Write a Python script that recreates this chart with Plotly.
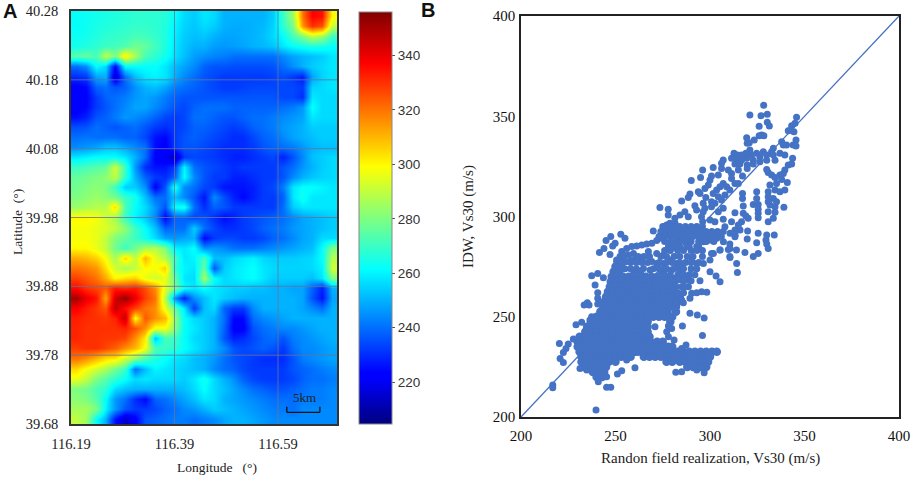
import plotly.graph_objects as go

W, H = 913, 477
SERIF = "Liberation Serif"
SANS = "Liberation Sans"

# ---------- Panel A data ----------
lon_ticks = [116.19, 116.39, 116.59]
lat_ticks = [39.68, 39.78, 39.88, 39.98, 40.08, 40.18, 40.28]
cbar_ticks = [220, 240, 260, 280, 300, 320, 340]
lon_range = [116.19, 116.704]
lat_range = [39.68, 40.28]
vs30_range = [204.6, 356]
vs30_rows = [
[262,263,264,265,266,267,268,268,268,267,262,256,254,258,256,250,250,250,250,250,254,270,285,320,337,335,300],
[262,263,265,266,267,268,269,269,268,266,260,255,253,256,254,250,249,249,250,251,255,268,280,315,330,325,290],
[263,264,266,268,269,270,272,271,269,266,259,254,252,253,250,248,248,249,250,252,256,262,272,280,290,285,270],
[264,266,268,270,271,273,278,276,271,266,258,253,250,250,247,246,247,248,250,251,253,258,262,264,266,265,262],
[274,276,272,290,280,302,286,272,268,264,257,252,247,245,243,242,240,240,240,240,240,244,248,250,252,254,258],
[240,245,262,256,224,262,262,262,262,258,252,248,244,238,236,236,235,235,235,235,236,240,245,250,254,256,258],
[230,232,248,250,216,240,252,258,260,258,250,244,240,236,234,232,232,232,232,232,233,235,232,228,248,255,258],
[222,224,238,240,236,238,245,250,252,248,242,240,238,236,234,232,232,233,234,234,234,234,234,232,255,256,258],
[221,223,232,238,240,242,246,248,246,242,238,236,236,236,236,236,236,236,236,236,236,234,234,230,258,256,256],
[221,224,232,236,240,244,248,248,244,240,236,234,238,240,240,240,238,238,238,238,238,240,242,246,262,256,256],
[225,228,236,238,242,246,244,242,238,234,232,234,240,240,238,236,236,238,240,240,242,244,246,248,258,256,256],
[235,236,240,238,236,238,240,236,232,230,232,234,238,238,236,234,232,234,238,240,242,246,248,250,254,254,254],
[240,241,240,240,240,238,238,234,226,224,232,236,238,236,234,232,230,230,234,238,240,244,248,250,252,254,254],
[244,246,248,252,252,248,244,240,225,222,232,236,236,234,232,230,230,230,232,236,238,240,242,246,250,252,252],
[258,260,262,262,262,258,250,240,222,220,212,232,234,233,232,230,228,228,230,232,234,228,236,244,252,254,256],
[270,272,274,276,292,270,246,230,226,226,232,260,240,236,234,232,230,232,232,232,232,236,240,246,250,254,256],
[276,278,280,282,290,268,250,238,232,230,238,262,244,236,232,232,228,228,230,232,232,236,244,250,253,255,256],
[278,280,282,280,270,254,254,245,222,236,266,244,240,234,232,226,226,226,228,232,234,242,258,262,262,260,258],
[280,282,284,282,278,270,264,252,240,240,252,244,236,226,244,235,228,224,228,232,232,238,258,264,258,258,258],
[284,286,288,288,304,272,262,256,246,236,262,264,240,230,238,236,232,232,232,232,232,240,254,258,258,258,258],
[300,300,298,292,286,270,260,254,244,224,238,238,234,236,230,225,228,232,234,236,238,240,244,248,250,252,254],
[298,298,296,294,290,282,270,262,252,238,240,240,254,240,234,230,230,232,234,238,240,242,246,248,250,252,254],
[298,298,296,290,280,276,270,264,256,248,246,248,250,224,232,234,234,232,232,234,238,240,244,248,250,256,256],
[300,300,296,290,278,270,278,286,288,280,260,258,262,245,246,244,240,240,240,242,244,246,248,250,252,262,280],
[312,310,306,298,286,305,290,310,296,288,272,258,260,272,252,252,256,258,260,256,254,254,254,255,256,262,288],
[320,318,315,304,292,286,290,300,298,306,268,260,258,276,236,254,258,260,262,258,256,255,255,255,256,260,292],
[328,324,320,312,300,304,306,296,292,296,276,258,256,286,262,256,258,260,262,258,254,254,254,254,252,258,280],
[336,330,327,324,333,331,333,326,316,295,280,262,258,262,258,256,254,254,252,252,250,250,248,248,238,228,250],
[350,340,335,312,344,352,340,328,320,288,245,228,245,252,258,254,252,250,250,250,250,250,250,248,236,226,248],
[338,333,329,324,346,335,328,320,316,296,276,258,232,252,256,238,232,232,244,250,250,250,250,248,244,240,250],
[333,331,330,329,332,346,298,324,316,310,284,262,256,254,250,240,224,224,240,244,246,248,250,250,250,250,250],
[332,330,330,330,330,332,325,316,298,298,282,262,258,254,250,238,222,222,236,240,242,244,244,246,248,250,250],
[332,330,330,329,329,327,316,302,252,272,270,262,256,254,250,236,228,230,234,238,240,236,242,244,246,248,250],
[328,330,330,327,323,316,310,298,272,270,268,262,258,254,250,244,236,234,236,238,236,232,240,244,244,246,248],
[320,316,310,304,302,292,282,272,266,262,258,256,252,250,246,240,236,234,232,230,230,230,236,242,244,246,248],
[305,298,292,286,278,270,240,252,260,258,256,254,252,250,244,240,238,234,232,232,232,232,236,238,240,242,244],
[296,290,280,274,268,262,256,258,256,256,256,254,258,264,256,250,245,238,234,232,232,232,234,238,240,240,242],
[280,278,272,268,256,252,250,250,250,250,250,252,256,262,256,252,248,244,240,238,236,236,238,240,242,242,244],
[282,280,274,262,246,240,230,224,238,240,244,248,252,258,256,250,248,246,244,242,240,240,240,242,242,242,244],
[286,286,280,260,246,236,232,232,234,238,240,244,246,250,254,252,250,248,246,244,242,242,240,244,244,244,244],
[290,285,262,250,226,214,222,236,238,240,242,242,240,242,244,248,250,250,248,246,244,244,244,244,244,244,244],
]

# ---------- Panel B data ----------
xy_ticks = [200, 250, 300, 350, 400]
xy_range = [200, 400]
blob_levels = [277.5, 275, 272.5, 270, 267.5, 265, 262.5, 260, 257.5, 255, 252.5, 250,
               247.5, 245, 242.5, 240, 237.5, 235, 232.5, 230, 227.5, 225, 222.5, 220]
blob_rows = [
[251,254],
[250,253],
[249,252,260,263],
[248,251,254,257,260,263,266,269,272],
[247.5,250.5,253.5,256.5,259.5,262.5,265.5,268.5,271.5,274],
[247,250,253,256,259,262,265,268,271,274,277,280],
[246,248.5,251.5,254.5,257.5,260.5,263.5,266.5,269.5,272.5,275.5,278.5,281],
[245,248,251,254,257,260,263,266,269,272,275,278,281,284],
[244,246.5,249.5,252.5,255.5,258.5,261.5,264.5,267.5,270.5,273.5,276.5,279.5,283],
[243.5,246,249,252,255,258,261,264,267,270,273,276,279,282],
[242,244.5,247.5,250.5,253.5,256.5,259.5,262.5,265.5,268.5,271.5,274.5,277.5,282],
[240,243,246,249,252,255,258,261,264,267,270,273,276,280],
[237,239.5,242.5,245.5,248.5,251.5,254.5,257.5,260.5,263.5,267,279],
[235,238,241,244,247,250,253,256,259,262,265,267],
[234,236.5,239.5,242.5,245.5,248.5,251.5,254.5,257.5,260.5,263.5,267],
[231,234,237,240,243,246,249,252,255,258,261,264,268],
[230,232.5,235.5,238.5,241.5,244.5,247.5,250.5,253.5,256.5,259.5,262.5,265.5,268.5,272,275],
[230,233,236,239,242,245,248,251,254,257,260,263,266,269,272,275,278,280],
[231,233.5,236.5,239.5,242.5,245.5,248.5,251.5,254.5,257.5,260.5,262,265,268,271,274,277,280,283,286,289,292,295,298,301,303.6],
[232,235,238,241,244,247,250,253,256,258,265,268,271,274,277,280,283,286,289,292,295,298,300],
[232,234.5,237.5,240.5,243.5,246.5,250,277,280,284,287,290,293,296,299],
[233,236,239,242,245,288,291,295,298],
[238,241,244],
[240,243],
]
band_levels = [295, 292.5, 290, 287.5, 285, 283]
band_rows = [
[275,278,281,284,287,290,293,296],
[274,277,280,283,286,289,292,295,298,301,304,307],
[273,276,279,282,285,288,291,294,297,300,303,306],
[276,279,282,284,287,290,294,298,302],
[278,281,284,289,294],
[276,279,283,286,290,293,296],
]
middle_levels = [280, 277, 274, 271, 268, 265, 262]
middle_rows = [
[262,265,268,274,277,281,284,288,291,296],
[258,261,264,267,273,277,280,284,287,290,294],
[255,258,261,270,273,277,281,284,286,290,293],
[274,276,279,283,286,289,292],
[276,279,282,286,290],
[282,285,287],
[283,286],
]
lower_x = [252.8,247.5,255,245,243.9,241.5,247.1,249.8,248.5,253.3,255.9,258.6,261.2,263.9,266.5,269.2,271.8,273.6,275.3,277.1,278.9,280.6,277.1,281.5,270,252.4,254.2,256.8,259.5,250.6,253.3,255.9,258.6,261.2,263.9,267.4,271.8,275.3,278.9,282.4,287.7,293,296.5,300,303.6,307.1,310.6,313.3,315.9,269.2,271.8,275.3,278.9,282.4,285,290.3,293,296.5,300,301.8,305.3,310.6,310.6,314.1,314.5,264.8,268.3,275.3,279.7,284.2,288.6,300,303.2,305.3,294.7,288.6,290.3,293,295.6,298.3,289.4,285,285.9,264.8,271.8,277.1,280.6,285,287.7,237.4,240.6,243.6,239.2,240.6,240.6,240.6,236,233.4,235.1,237.4,236.5,232.1,229.1,289.4,293.3,296.9,285.4,296,278,279.7,277.1,278,281,270.9,220.3,227.7,225,223.8,222.4,220.7,222.4,231.2,234.8,260.3,253.3,251,245.3,240.9,245.3,247.5,281.9,285,293,296.9,294.7,216.8,216.8,239.7,255.9,285,287.3]
lower_y = [291.1,290,289.1,288,284.1,282.1,281.1,286.6,285.3,282.5,284.1,285,285.3,285.8,286.3,286.6,288,289.1,290.8,292.4,293.3,294.9,295.8,296.6,292.8,280,280.8,280.8,281.6,278.3,277.5,277.5,278.3,279.1,279.1,282.5,281.6,280.8,283.3,284.1,285,285,287.4,288.3,289.1,287.4,291.6,290.8,293.3,277.5,276.6,276.6,278.3,276.6,275,277.5,276.6,276.6,278.3,281.6,283.3,284.1,279.6,276.6,272.1,274.1,273.3,273.3,273.3,272.5,268.3,272.5,270.3,267.5,268,265,261.7,262,262.5,262.2,259.2,258.3,257,268.3,270,269.2,269.2,268.3,269.2,270.5,271.6,269.5,265.8,262,259.2,256.3,255.8,255.8,257,250,248.4,247.2,246,251.7,250.9,249.4,245.4,240.7,245.4,244.2,242.5,240,238.4,245,236.7,238.9,236.4,234.2,232.2,229.2,227.2,224.2,223.4,224.6,223.1,221.4,220.1,217.6,214.8,214.8,222.3,222.6,223.4,222.1,225.1,216,214.6,203.5,228.4,234.2,235.9]
upper_x = [328.4,321.1,327,330.3,326,330.3,331.4,345.8,345,343.2,342.6,341.4,344.4,327.3,326,328.5,319.4,323.4,320.8,319.7,337.9,345.5,344,345.5,340.5,338.8,333.5,332.6,321.1,312.7,314.4,316.7,319,322,324.7,328.2,330,326.4,333.5,337,339.6,343.7,311.4,314,316.7,319.4,322.9,326.4,330,334.4,307,306.1,313.2,315.8,319.7,322.9,341.4,343.2,301.7,296.1,306.1,309.7,315,319.7,330,339.6,311.4,317.2,330.8,332.6,334.4,337,338.8,304.4,300.8,295,290.1,300,340.9,337.9,335.2,331.7,311.4,313.2,315,307,308.8,305.3,299.1,297.3,310.5,303.5,334.4,339.6,337,330.8,324.7,317.2,293.8,294.7,301.7,307.9,297.8,289.4,288.5,285,304.4,306.1,302.6,300.8,296.4,317.2,330.8,333.5,335.2,324.7,322.9,325.5,330.8,331.7,334.4,339.1,317.6,300.8,297.3,292,307,304.4,277.9,273.5,277.9,292.9,325.5,325.5,325.5,330.8,334.4,333.5,330.8,313.2,317.6,319,320.2,316.7,315,311.4,307,296.4,295.5,296.1,300,302.6,286.7,284.1,281.4,278.8,276.1,288.5,307.9,313.2,300.8,305.3,310.5,309.7,314,318.5,325.5,322.9,310.5,319.9,319.7,325.5,324.7,330,334,329.6,330,330.8,312.3,313.2]
upper_y = [355.5,350.6,350.3,351,345,347,345.1,349.5,346.5,345.3,343.1,342.8,342.3,340.6,340.3,340.3,339.3,338.2,336.8,336.5,337.3,338.2,335.7,335.2,335.7,335.7,334,332.3,333.2,331.5,330.7,330.7,331.5,330.7,331.5,332.3,330.7,329.8,330.7,331.5,330.7,329,329,328,328,329,328,327.3,328,328,328.2,326.5,326.2,326.2,325.7,326.2,325.7,326.2,324.4,323.2,324,323.2,323.2,324,323.5,323.2,321.5,320.2,321.9,320.7,319.5,320.7,321.5,320.7,320.2,319.4,317.9,318.2,316.9,318.5,316.5,315.7,319,316.5,316.5,316.5,314.9,314.9,315.7,314,313.2,313.2,313.2,313.2,312.4,312.4,312.4,311.5,312.4,311.5,311.5,310.7,309.5,311.2,309.5,307.7,309.9,308.2,306.6,307.4,306.6,309,309.9,309,307.4,309,306,306,307.4,305.7,304.9,304.6,305.2,304.9,304.1,305.4,304.1,302.4,303.6,304.5,300.7,303.2,303.6,301.6,299.4,302.4,302.1,299.1,297.4,301.9,301.6,300.2,299.1,297.4,295.8,297.4,298.6,302.4,299.9,297.4,298.2,297.4,302.4,300.7,299.1,296.6,294.9,299.9,294.9,293.3,281.6,283.3,286.3,283.6,283.3,282.1,281.6,280,280,292.8,288.8,291.6,286.9,290.8,290.8,288.3,286.3,284.1,291.6,289.9]

dense_x, dense_y = [], []
for level, row in zip(blob_levels, blob_rows):
    dense_x += row
    dense_y += [level] * len(row)
scatter_x = lower_x + upper_x
scatter_y = lower_y + upper_y
for level, row in zip(band_levels + middle_levels, band_rows + middle_rows):
    scatter_x = scatter_x + row
    scatter_y = scatter_y + [level] * len(row)

# ---------- layout in pixels ----------
def px(x): return x / W
def py(y): return 1 - y / H

A_BOX = (71, 337, 11, 424)
B_BOX = (521, 899, 16, 417)
CB = (359, 392, 12, 424)

fig = go.Figure()
n_rows, n_cols = len(vs30_rows), len(vs30_rows[0])
dx = (lon_range[1] - lon_range[0]) / n_cols
dy = (lat_range[1] - lat_range[0]) / n_rows
fig.add_trace(go.Heatmap(
    z=vs30_rows, x0=lon_range[0] + dx / 2, dx=dx, y0=lat_range[1] - dy / 2, dy=-dy,
    zmin=vs30_range[0], zmax=vs30_range[1], zsmooth="best",
    colorscale=[[0, "#00007f"], [0.11, "#0000ff"], [0.125, "#0000ff"], [0.375, "#00ffff"],
                [0.625, "#ffff00"], [0.875, "#ff0000"], [1, "#7f0000"]],
    xaxis="x", yaxis="y",
    colorbar=dict(x=px(CB[0]), xanchor="left", xpad=0, ypad=0, y=py(CB[3]), yanchor="bottom",
                  len=(CB[3] - CB[2]) / H, lenmode="fraction", thickness=CB[1] - CB[0],
                  thicknessmode="pixels", tickvals=cbar_ticks, ticks="outside", ticklen=3,
                  tickcolor="#555", outlinecolor="#888", outlinewidth=1,
                  tickfont=dict(family=SANS, size=13.5, color="#333")),
))
fig.add_trace(go.Scatter(x=xy_range, y=xy_range, mode="lines", xaxis="x2", yaxis="y2",
                         line=dict(color="#4472c4", width=1.3), showlegend=False))
fig.add_trace(go.Scatter(x=dense_x, y=dense_y, mode="markers", xaxis="x2", yaxis="y2",
                         marker=dict(color="#4472c4", size=8.5, line=dict(width=0)), showlegend=False))
fig.add_trace(go.Scatter(x=scatter_x, y=scatter_y, mode="markers", xaxis="x2", yaxis="y2",
                         marker=dict(color="#4472c4", size=7, line=dict(width=0)), showlegend=False))

grid = dict(color="rgba(105,115,150,0.8)", width=1)
shapes = []
for v in lon_ticks[1:]:
    shapes.append(dict(type="line", xref="x", yref="y", x0=v, x1=v, y0=lat_range[0], y1=lat_range[1], line=grid))
for v in lat_ticks[1:-1]:
    shapes.append(dict(type="line", xref="x", yref="y", x0=lon_range[0], x1=lon_range[1], y0=v, y1=v, line=grid))
# 5 km scale bar
bar = dict(color="#111", width=1.3)
bar_lon = [116.607, 116.671]
bar_lat = [39.697, 39.705]
shapes.append(dict(type="line", xref="x", yref="y", x0=bar_lon[0], x1=bar_lon[1], y0=bar_lat[0], y1=bar_lat[0], line=bar))
for v in bar_lon:
    shapes.append(dict(type="line", xref="x", yref="y", x0=v, x1=v, y0=bar_lat[0], y1=bar_lat[1], line=bar))

def ann(text, x, y, size=13.5, family=SERIF, rot=0, bold=False, color="#222"):
    return dict(text=f"<b>{text}</b>" if bold else text, x=px(x), y=py(y), xref="paper", yref="paper",
                showarrow=False, textangle=rot, font=dict(family=family, size=size, color=color),
                xanchor="center", yanchor="middle")

annotations = [
    ann("A", 10, 11, size=20, family=SANS, bold=True, color="#111"),
    ann("B", 428, 10, size=20, family=SANS, bold=True, color="#111"),
    ann("5km", 304, 397, size=13),
    ann("Longitude   (°)", 217, 467, size=13.5),
    ann("Latitude  (°)", 17, 222, size=13.5, rot=-90),
    ann("Randon field realization, Vs30 (m/s)", 710, 458, size=15),
    ann("IDW, Vs30 (m/s)", 468, 216, size=15, rot=-90),
]

def frame(color, width):
    return dict(showline=True, mirror=True, linecolor=color, linewidth=width, showgrid=False,
                zeroline=False, ticks="outside", tickcolor="rgba(0,0,0,0)", automargin=False)

fig.update_layout(
    template="none",
    width=W, height=H, autosize=False, showlegend=False, paper_bgcolor="white", plot_bgcolor="white",
    margin=dict(l=0, r=0, t=0, b=0, pad=0), shapes=shapes, annotations=annotations,
    xaxis=dict(domain=[px(A_BOX[0]), px(A_BOX[1])], range=lon_range, tickvals=lon_ticks, ticklen=6,
               ticktext=[f"{v:.2f}" for v in lon_ticks], tickfont=dict(family=SERIF, size=14.5, color="#222"),
               anchor="y", **frame("#333", 1.5)),
    yaxis=dict(domain=[py(A_BOX[3]), py(A_BOX[2])], range=lat_range, tickvals=lat_ticks, ticklen=8,
               ticktext=[f"{v:.2f}" for v in lat_ticks], tickfont=dict(family=SERIF, size=14.5, color="#222"),
               anchor="x", **frame("#333", 1.5)),
    xaxis2=dict(domain=[px(B_BOX[0]), px(B_BOX[1])], range=xy_range, tickvals=xy_ticks, ticklen=4,
                tickfont=dict(family=SERIF, size=15, color="#111"), anchor="y2", **frame("#222", 1.5)),
    yaxis2=dict(domain=[py(B_BOX[3]), py(B_BOX[2])], range=xy_range, tickvals=xy_ticks, ticklen=1,
                tickfont=dict(family=SERIF, size=15, color="#111"), anchor="x2", **frame("#222", 1.5)),
)

fig.write_html("out.html", config=dict(displayModeBar=False),
               post_script="document.body.style.margin='0';document.body.style.overflow='hidden';")
